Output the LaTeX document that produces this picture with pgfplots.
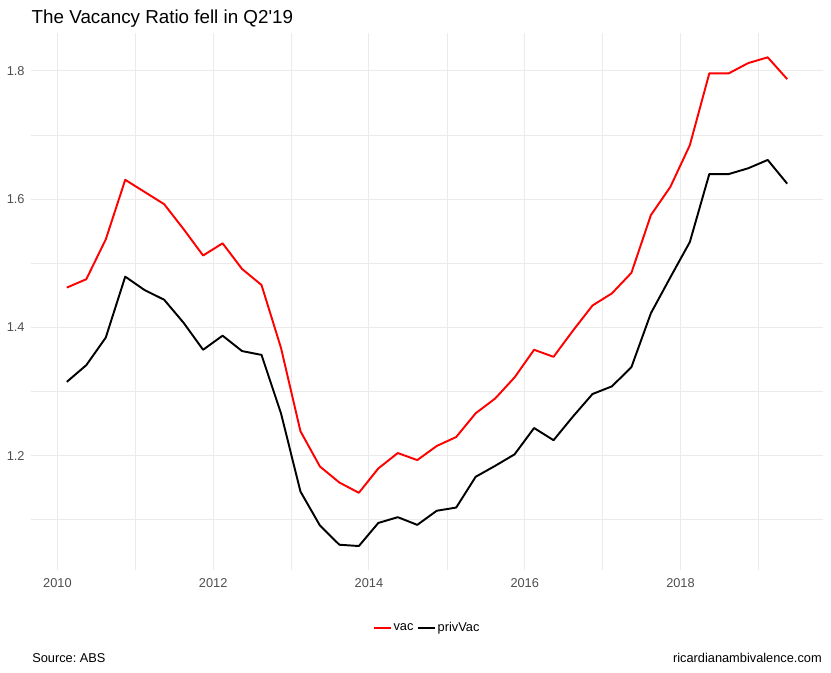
\documentclass[border=0pt]{standalone}
\usepackage{fontspec}
\setmainfont{Liberation Sans}
\usepackage{pgfplots}
\pgfplotsset{compat=1.18}
\definecolor{gridgrey}{HTML}{EBEBEB}
\definecolor{grey30}{HTML}{4D4D4D}
\frenchspacing

\begin{document}
\begin{tikzpicture}
\useasboundingbox (0,0) rectangle (623.25pt,504pt);
\begin{axis}[
  at={(23.25pt,76.2pt)}, anchor=south west,
  scale only axis, width=594pt, height=403.1pt,
  xmin=2009.66, xmax=2019.83, ymin=1.021, ymax=1.859,
  axis line style={draw=none}, major tick length=0pt, minor tick length=0pt,
  xtick={2010,2012,2014,2016,2018}, xticklabels={2010,2012,2014,2016,2018},
  minor xtick={2011,2013,2015,2017,2019},
  ytick={1.2,1.4,1.6,1.8}, yticklabels={1.2,1.4,1.6,1.8},
  minor ytick={1.1,1.3,1.5,1.7},
  grid=both,
  major grid style={gridgrey, line width=0.75pt},
  minor grid style={gridgrey, line width=0.5pt},
  /pgf/number format/assume math mode=true,
  tick label style={font=\fontsize{9.6}{11}\selectfont, text=grey30},
  xticklabel style={yshift=-2.3pt},
  yticklabel style={xshift=-1.3pt},
  legend style={at={(0.5,-0.1065)}, anchor=center, draw=none, fill=none,
    font=\fontsize{9.6}{11}\selectfont,
    /tikz/every even column/.append style={column sep=1pt},
    nodes={inner sep=1.5pt}},
  legend columns=2,
  legend image code/.code={\draw[#1] (0pt,0pt) -- (12.75pt,0pt);},
]
\addplot[red, line width=1.45pt, line join=round] table {
x y
2010.12 1.462
2010.37 1.475
2010.62 1.537
2010.87 1.630
2011.12 1.611
2011.37 1.592
2011.62 1.553
2011.87 1.512
2012.12 1.531
2012.37 1.491
2012.62 1.466
2012.87 1.368
2013.12 1.238
2013.37 1.183
2013.62 1.158
2013.87 1.142
2014.12 1.180
2014.37 1.204
2014.62 1.193
2014.87 1.215
2015.12 1.229
2015.37 1.266
2015.62 1.289
2015.87 1.322
2016.12 1.365
2016.37 1.354
2016.62 1.395
2016.87 1.434
2017.12 1.453
2017.37 1.485
2017.62 1.575
2017.87 1.619
2018.12 1.684
2018.37 1.796
2018.62 1.796
2018.87 1.812
2019.12 1.821
2019.37 1.787
};
\addlegendentry{vac}
\addplot[black, line width=1.45pt, line join=round] table {
x y
2010.12 1.315
2010.37 1.341
2010.62 1.384
2010.87 1.479
2011.12 1.458
2011.37 1.443
2011.62 1.407
2011.87 1.365
2012.12 1.387
2012.37 1.363
2012.62 1.357
2012.87 1.266
2013.12 1.144
2013.37 1.091
2013.62 1.061
2013.87 1.059
2014.12 1.095
2014.37 1.104
2014.62 1.092
2014.87 1.114
2015.12 1.119
2015.37 1.167
2015.62 1.184
2015.87 1.202
2016.12 1.243
2016.37 1.224
2016.62 1.261
2016.87 1.296
2017.12 1.308
2017.37 1.338
2017.62 1.422
2017.87 1.478
2018.12 1.533
2018.37 1.639
2018.62 1.639
2018.87 1.648
2019.12 1.661
2019.37 1.624
};
\addlegendentry{privVac}
\end{axis}
\node[anchor=base west, inner sep=0pt, font=\fontsize{14.1}{17}\selectfont] at (23.6pt,486.5pt) {The Vacancy Ratio fell in Q2\textquotesingle19};
\node[anchor=base west, inner sep=0pt, font=\fontsize{9.6}{11}\selectfont] at (24pt,7.5pt) {Source: ABS};
\node[anchor=base east, inner sep=0pt, font=\fontsize{9.6}{11}\selectfont] at (616.5pt,7.5pt) {ricardianambivalence.com};
\end{tikzpicture}
\end{document}
